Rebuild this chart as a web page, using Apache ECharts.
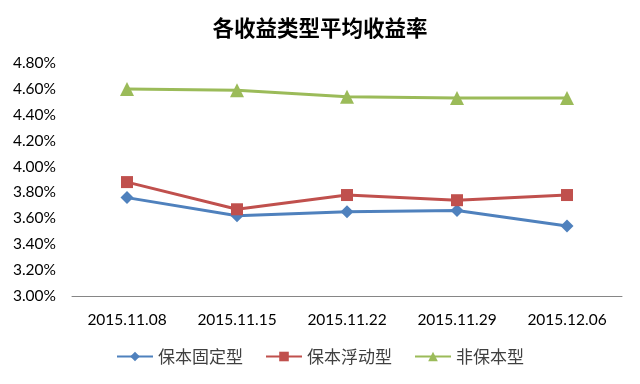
<!DOCTYPE html>
<html><head><meta charset="utf-8">
<script src="https://cdn.jsdelivr.net/npm/echarts@6/dist/echarts.min.js"></script>
<style>html,body{margin:0;padding:0;background:#fff}#c{width:640px;height:384px}</style>
</head><body><div id="c"></div>
<script>
const categories = ['2015.11.08','2015.11.15','2015.11.22','2015.11.29','2015.12.06'];
const seriesNames = ['保本固定型','保本浮动型','非保本型'];
const fixedVals = [3.76, 3.62, 3.65, 3.66, 3.54];
const floatVals = [3.88, 3.67, 3.78, 3.74, 3.78];
const nonVals = [4.60, 4.59, 4.54, 4.53, 4.53];
const yMin = 3.0, yMax = 4.8, yStep = 0.2;

const chart = echarts.init(document.getElementById('c'));
const font = 'Lato, "Noto Sans CJK SC", sans-serif';
chart.setOption({
  animation: false,
  backgroundColor: '#fff',
  title: {
    text: '各收益类型平均收益率', left: 'center', top: 12,
    textStyle: {fontFamily: '"Noto Sans CJK SC", sans-serif', fontSize: 21.5, fontWeight: 'bold', color: '#000'}
  },
  legend: {
    bottom: 14, left: 'center', itemGap: 22, itemWidth: 36, itemHeight: 12,
    textStyle: {fontFamily: '"Noto Sans CJK SC", sans-serif', fontSize: 17, color: '#404040'},
    data: seriesNames
  },
  grid: {left: 72, right: 18, top: 63, bottom: 88, containLabel: false},
  xAxis: {
    type: 'category', data: categories, boundaryGap: true,
    axisLine: {lineStyle: {color: '#868686', width: 1}},
    axisTick: {show: false},
    axisLabel: {fontFamily: font, fontSize: 15.5, color: '#000', margin: 16}
  },
  yAxis: {
    type: 'value', min: yMin, max: yMax, interval: yStep,
    axisLine: {show: false}, axisTick: {show: false}, splitLine: {show: false},
    axisLabel: {fontFamily: font, fontSize: 15.5, color: '#000', margin: 16,
      formatter: v => v.toFixed(2) + '%'}
  },
  series: [
    {name: seriesNames[0], type: 'line', data: fixedVals, symbol: 'diamond', symbolSize: 13,
     lineStyle: {width: 3, color: '#4F81BD'}, itemStyle: {color: '#4F81BD'}},
    {name: seriesNames[1], type: 'line', data: floatVals, symbol: 'rect', symbolSize: 12,
     lineStyle: {width: 3, color: '#C0504D'}, itemStyle: {color: '#C0504D'}},
    {name: seriesNames[2], type: 'line', data: nonVals, symbol: 'triangle', symbolSize: 14,
     lineStyle: {width: 3, color: '#9BBB59'}, itemStyle: {color: '#9BBB59'}}
  ]
});
</script></body></html>
